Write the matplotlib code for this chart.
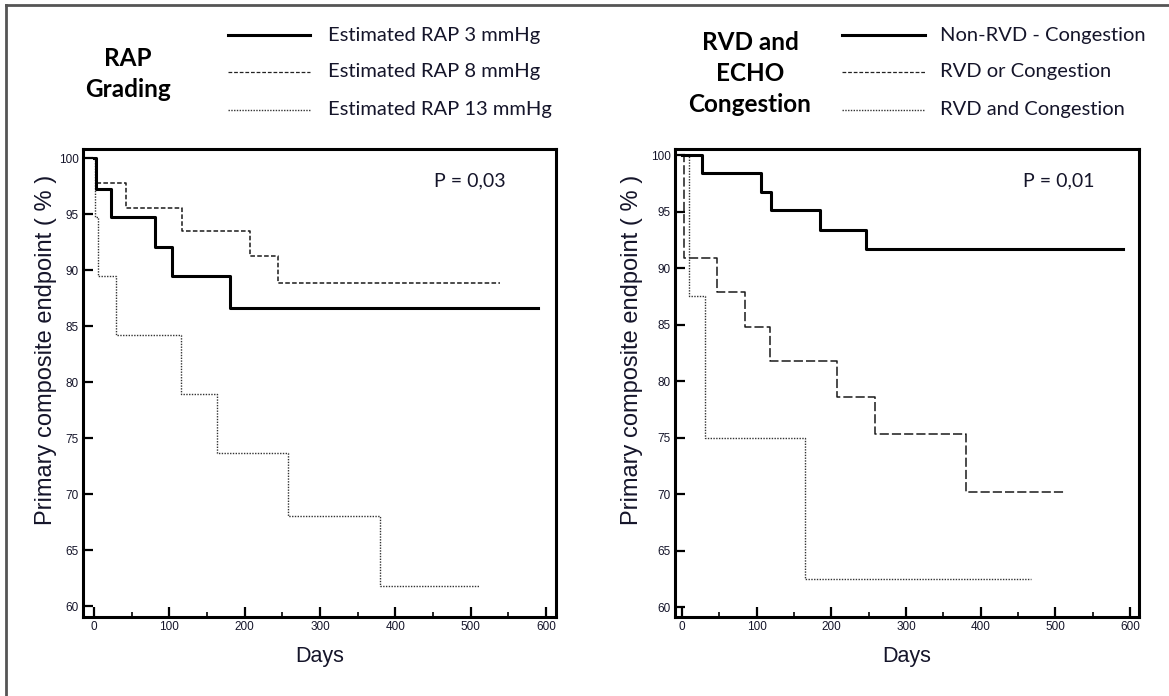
import matplotlib
matplotlib.use('Agg')
import matplotlib.pyplot as plt
from matplotlib.lines import Line2D

# Kaplan-Meier steps (day of event, survival %)
rap3_days = [0, 2, 23, 81, 104, 181, 590]
rap3_surv = [100, 97.3, 94.8, 92.1, 89.5, 86.6, 86.6]
rap8_days = [0, 2, 43, 117, 207, 244, 539]
rap8_surv = [100, 97.8, 95.6, 93.5, 91.3, 88.9, 88.9]
rap13_days = [0, 1, 5, 29, 115, 163, 257, 380, 511]
rap13_surv = [100, 94.8, 89.5, 84.2, 78.9, 73.7, 68.0, 61.8, 61.8]

nonrvd_days = [0, 27, 106, 119, 185, 246, 591]
nonrvd_surv = [100, 98.4, 96.7, 95.1, 93.4, 91.7, 91.7]
rvd_or_days = [0, 3, 47, 84, 118, 208, 259, 380, 512]
rvd_or_surv = [100, 90.9, 87.9, 84.8, 81.8, 78.6, 75.3, 70.2, 70.2]
rvd_and_days = [0, 10, 31, 165, 468]
rvd_and_surv = [100, 87.5, 75.0, 62.5, 62.5]

left_labels = ['Estimated RAP 3 mmHg', 'Estimated RAP 8 mmHg', 'Estimated RAP 13 mmHg']
right_labels = ['Non-RVD - Congestion', 'RVD or Congestion', 'RVD and Congestion']
left_title = 'RAP\nGrading'
right_title = 'RVD and\nECHO\nCongestion'
p_left = 'P = 0,03'
p_right = 'P = 0,01'

TXT = '#15152a'
solid = dict(color='black', lw=2.2, ls='-')
dashed_l = dict(color='#1a1a1a', lw=1.1, ls=(0, (3, 1.5)))
dashed_r = dict(color='#1a1a1a', lw=1.1, ls=(0, (6, 2)))
dotted = dict(color='#333333', lw=1.0, ls=(0, (1, 1)))
leg_dash = dict(color='#222222', lw=0.9, ls=(0, (3, 1.5)))

fig = plt.figure(figsize=(11.69, 6.96), dpi=100)
axl = fig.add_axes([0.0710, 0.1135, 0.4046, 0.6724])
axr = fig.add_axes([0.5774, 0.1135, 0.3969, 0.6724])

axl.step(rap3_days, rap3_surv, where='post', **solid, zorder=3)
axl.step(rap8_days, rap8_surv, where='post', **dashed_l)
axl.step(rap13_days, rap13_surv, where='post', **dotted)
axl.set_xlim(-14.6, 613.3)
axl.set_ylim(59.02, 100.83)

axr.step(nonrvd_days, nonrvd_surv, where='post', **solid, zorder=3)
axr.step(rvd_or_days, rvd_or_surv, where='post', **dashed_r)
axr.step(rvd_and_days, rvd_and_surv, where='post', **dotted)
axr.set_xlim(-9.4, 612)
axr.set_ylim(59.12, 100.53)

for ax, ylx in ((axl, -0.055), (axr, -0.069)):
    for s in ax.spines.values():
        s.set_linewidth(2.2)
    ax.set_xticks(range(0, 601, 100))
    ax.set_xticks(range(50, 600, 100), minor=True)
    ax.set_yticks(range(60, 101, 5))
    ax.tick_params(which='major', direction='in', length=7, width=1.6,
                   labelsize=8.5, labelcolor=TXT, pad=3)
    ax.tick_params(which='minor', direction='in', length=3.5, width=1.2)
    for lab in ax.get_xticklabels() + ax.get_yticklabels():
        lab.set_family('Liberation Sans')
    ax.set_xlabel('Days', fontsize=15.5, family='Liberation Sans', color=TXT)
    ax.xaxis.set_label_coords(0.5, -0.062)
    ax.set_ylabel('Primary composite endpoint ( % )', fontsize=17,
                  family='Liberation Sans', color=TXT)
    ax.yaxis.set_label_coords(ylx, 0.57)

axl.text(0.742, 0.932, p_left, transform=axl.transAxes, fontsize=14,
         family='Lato', color=TXT, va='center')
axr.text(0.75, 0.932, p_right, transform=axr.transAxes, fontsize=14,
         family='Lato', color=TXT, va='center')

# header legends
fig.text(0.1095, 0.8937, left_title, ha='center', va='center', fontsize=17.5,
         fontweight='bold', family='Lato', linespacing=1.42, color='black')
fig.text(0.6416, 0.895, right_title, ha='center', va='center', fontsize=17.5,
         fontweight='bold', family='Lato', linespacing=1.42, color='black')

rows_y = [1 - 35 / 696, 1 - 72 / 696, 1 - 110 / 696]
styles = [solid, leg_dash, dotted]
for (x0, x1, xt, labels) in ((0.195, 0.265, 0.2806, left_labels),
                              (0.7203, 0.7913, 0.8041, right_labels)):
    for y, st, lab in zip(rows_y, styles, labels):
        fig.add_artist(Line2D([x0, x1], [y, y], transform=fig.transFigure, **st))
        fig.text(xt, y, lab, fontsize=14.5, family='Lato', color=TXT,
                 va='center', ha='left')

# outer frame (top and left edges visible)
frame = dict(color='#555555', lw=2, transform=fig.transFigure)
fig.add_artist(Line2D([0.0051, 1.0], [0.9928, 0.9928], **frame))
fig.add_artist(Line2D([0.0051, 0.0051], [0.0, 0.9928], **frame))

fig.savefig('out.png', dpi=100)
